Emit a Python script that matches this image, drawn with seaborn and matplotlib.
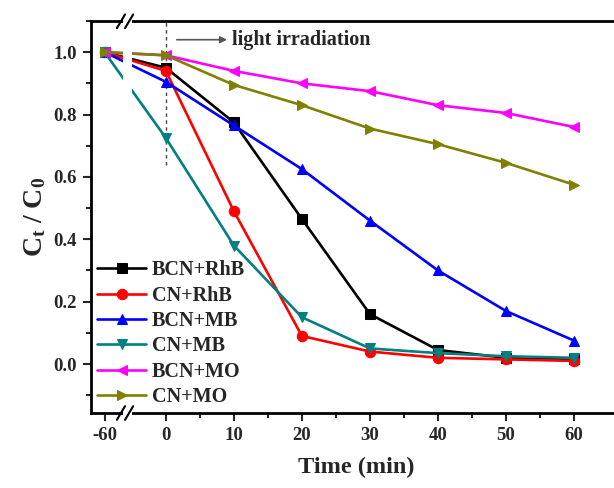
import matplotlib
matplotlib.use("Agg")
import matplotlib.pyplot as plt
import seaborn as sns
import pandas as pd
from matplotlib.patches import Rectangle

# ---- data ----
time_labels = ["-60", "0", "10", "20", "30", "40", "50", "60"]
time_pos = [-9, 0, 10, 20, 30, 40, 50, 60]   # -60 drawn left of the axis break

bcn_rhb = [1.0, 0.95, 0.775, 0.465, 0.16, 0.045, 0.02, 0.015]
cn_rhb = [1.0, 0.94, 0.49, 0.09, 0.04, 0.02, 0.015, 0.01]
bcn_mb = [1.0, 0.905, 0.765, 0.625, 0.46, 0.30, 0.17, 0.075]
cn_mb = [1.0, 0.725, 0.38, 0.15, 0.05, 0.035, 0.025, 0.02]
bcn_mo = [1.0, 0.99, 0.94, 0.90, 0.875, 0.83, 0.805, 0.76]
cn_mo = [1.0, 0.99, 0.895, 0.83, 0.755, 0.705, 0.645, 0.575]

series_names = ["BCN+RhB", "CN+RhB", "BCN+MB", "CN+MB", "BCN+MO", "CN+MO"]
series_vals = [bcn_rhb, cn_rhb, bcn_mb, cn_mb, bcn_mo, cn_mo]
colors = ["#000000", "#FF0000", "#0000FF", "#008080", "#FF00FF", "#808000"]
markers = ["s", "o", "^", "v", "<", ">"]

sns.set_theme(style="ticks")
plt.rcParams["font.family"] = ["Liberation Serif", "DejaVu Serif"]
plt.rcParams["font.weight"] = "bold"
plt.rcParams["mathtext.fontset"] = "custom"
plt.rcParams["mathtext.rm"] = "Liberation Serif:bold"
plt.rcParams["mathtext.it"] = "Liberation Serif:bold"
plt.rcParams["mathtext.bf"] = "Liberation Serif:bold"

fig = plt.figure(figsize=(6.14, 4.88), dpi=100)
ax = fig.add_axes([91 / 614, 75 / 488, 530 / 614, 392 / 488])

for name, vals, c, m in zip(series_names, series_vals, colors, markers):
    df = pd.DataFrame({"t": time_pos, "v": vals})
    sns.lineplot(data=df, x="t", y="v", ax=ax, color=c, marker=m,
                 markersize=7.5, markeredgecolor=c, linewidth=1.9, label=name,
                 zorder=2)

ax.set_xlim(-11.0, 66.9)
ax.set_ylim(-0.157, 1.099)

ax.set_xticks(time_pos)
ax.set_xticklabels(time_labels)
ax.set_xticks([5, 15, 25, 35, 45, 55], minor=True)
ax.set_yticks([0.0, 0.2, 0.4, 0.6, 0.8, 1.0])
ax.set_yticklabels(["0.0", "0.2", "0.4", "0.6", "0.8", "1.0"])
ax.set_yticks([-0.1, 0.1, 0.3, 0.5, 0.7, 0.9, 1.1], minor=True)
ax.tick_params(axis="both", which="major", length=6, width=1.5,
               labelsize=13.5, direction="out", pad=4)
ax.tick_params(axis="both", which="minor", length=3.5, width=1.5,
               direction="out")
for lab in ax.get_xticklabels() + ax.get_yticklabels():
    lab.set_fontweight("bold")

for s in ["left", "bottom", "top"]:
    ax.spines[s].set_linewidth(2.0)
    ax.spines[s].set_color("black")
ax.spines["right"].set_visible(False)

ax.set_xlabel("Time (min)", fontsize=17.5, fontweight="bold", labelpad=9)
ax.set_ylabel(r"C$_{\rm t}$ / C$_{\rm 0}$", fontsize=20, fontweight="bold",
              labelpad=4)

# axis break: white gap + slashes
gap = Rectangle((-6.3, -0.2), 1.3, 1.4, facecolor="white", edgecolor="none",
                zorder=2.6, clip_on=False, transform=ax.transData)
ax.add_patch(gap)
for yb in (1.099, -0.157):
    for dx in (-6.6, -5.4):
        ax.plot([dx - 0.6, dx + 0.6], [yb - 0.022, yb + 0.022], color="black",
                lw=1.5, clip_on=False, zorder=3)

# light irradiation marker
ax.plot([0, 0], [0.638, 1.099], color="#444444", lw=1.0, ls=(0, (2.5, 2.5)),
        zorder=1)
ax.annotate("", xy=(9.0, 1.04), xytext=(1.6, 1.04),
            arrowprops=dict(arrowstyle="-|>", color="#555555", lw=1.2,
                            mutation_scale=10, shrinkA=0, shrinkB=0))
ax.text(9.7, 1.04, "light irradiation", fontsize=14.5, fontweight="bold",
        va="center", ha="left")

leg = ax.legend(loc="upper left", bbox_to_anchor=(0.012, 0.39), frameon=False,
                fontsize=14.5, handlelength=2.4, handletextpad=0.3,
                labelspacing=0.27, borderpad=0, borderaxespad=0)
for t in leg.get_texts():
    t.set_fontweight("bold")

fig.savefig("out.png", dpi=100)
